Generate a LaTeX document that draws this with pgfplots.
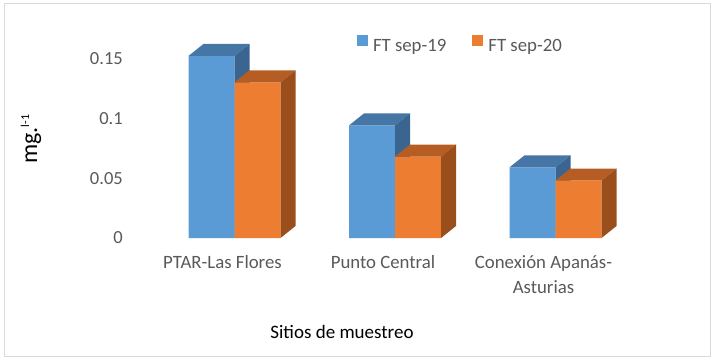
\documentclass[border=0pt]{standalone}
\usepackage{fontspec}
\setmainfont{Carlito}
\usepackage{pgfplots}
\pgfplotsset{compat=1.18}
\definecolor{bfront}{HTML}{5B9BD5}
\definecolor{btop}{HTML}{4676A6}
\definecolor{bside}{HTML}{3B6591}
\definecolor{ofront}{HTML}{ED7D31}
\definecolor{otop}{HTML}{B55D22}
\definecolor{oside}{HTML}{9A4E1C}
\definecolor{tgrey}{HTML}{595959}
\definecolor{framec}{HTML}{D9D9D9}

\newcommand{\depthx}{0.0935}
\newcommand{\depthy}{0.010}
% top and side faces of a 3D column: #1 left x, #2 right x, #3 value
\newcommand{\boxfaces}[5]{%
  \pgfmathsetmacro{\xLb}{#1+\depthx}%
  \pgfmathsetmacro{\xRb}{#2+\depthx}%
  \pgfmathsetmacro{\vb}{#3+\depthy}%
  \addplot[fill=#4, draw=none, forget plot] coordinates {(#1,#3) (#2,#3) (\xRb,\vb) (\xLb,\vb)} -- cycle;
  \addplot[fill=#5, draw=none, forget plot] coordinates {(#2,0) (#2,#3) (\xRb,\vb) (\xRb,\depthy)} -- cycle;
}

\begin{document}
\begin{tikzpicture}[x=1pt,y=1pt]
\useasboundingbox (0,0) rectangle (714,362);
\draw[draw=framec, line width=1pt] (4,6) rectangle (710,358);
\begin{axis}[
  at={(122.99pt,124pt)}, anchor=south west, scale only axis,
  width=532.86pt, height=191.68pt,
  xmin=-0.62, xmax=2.7, ymin=0, ymax=0.16, clip=false,
  axis line style={draw=none}, major tick length=0pt, tick style={draw=none},
  xtick={0,1,2},
  xticklabels={PTAR-Las Flores, Punto Central, {Conexión Apanás-\\Asturias}},
  ytick={0,0.05,0.1,0.15},
  yticklabels={0,0.05,0.1,0.15},
  xticklabel style={anchor=north, inner sep=0pt, yshift=-17.5pt, align=center,
    text=tgrey, font=\fontsize{18.8}{25}\selectfont},
  yticklabel style={anchor=east, inner sep=0pt, text=tgrey,
    font=\fontsize{18.5}{22}\selectfont},
  legend style={at={(axis cs:0.838,0.1619)}, anchor=west, draw=none, fill=none,
    inner sep=0pt, outer sep=0pt, legend columns=2,
    nodes={inner sep=0pt, text=tgrey, font=\fontsize{18.8}{22}\selectfont},
    /tikz/every odd column/.append style={column sep=5pt},
    /tikz/every even column/.append style={column sep=26pt}},
]
\addplot[ybar, bar width=46pt, bar shift=-11pt, fill=bfront, draw=none,
  legend image code/.code={\fill[bfront] (0pt,0pt) rectangle (11pt,11pt);}]
  coordinates {(0,0.152) (1,0.094) (2,0.059)};
\addlegendentry{FT sep-19}
\boxfaces{-0.2118}{0.0748}{0.152}{btop}{bside}
\boxfaces{0.7882}{1.0748}{0.094}{btop}{bside}
\boxfaces{1.7882}{2.0748}{0.059}{btop}{bside}
\addplot[ybar, bar width=46pt, bar shift=35pt, fill=ofront, draw=none,
  legend image code/.code={\fill[ofront] (0pt,0pt) rectangle (11pt,11pt);}]
  coordinates {(0,0.130) (1,0.068) (2,0.048)};
\addlegendentry{FT sep-20}
\boxfaces{0.0748}{0.3614}{0.130}{otop}{oside}
\boxfaces{1.0748}{1.3614}{0.068}{otop}{oside}
\boxfaces{2.0748}{2.3614}{0.048}{otop}{oside}
\end{axis}
\node[rotate=90, anchor=base, inner sep=0pt, font=\fontsize{24}{28}\selectfont] at (37,222.8)
  {mg.\raisebox{8pt}{\fontsize{12}{12}\selectfont l-1}};
\node[anchor=base, inner sep=0pt, font=\fontsize{19}{23}\selectfont] at (342,23.3) {Sitios de muestreo};
\end{tikzpicture}
\end{document}
